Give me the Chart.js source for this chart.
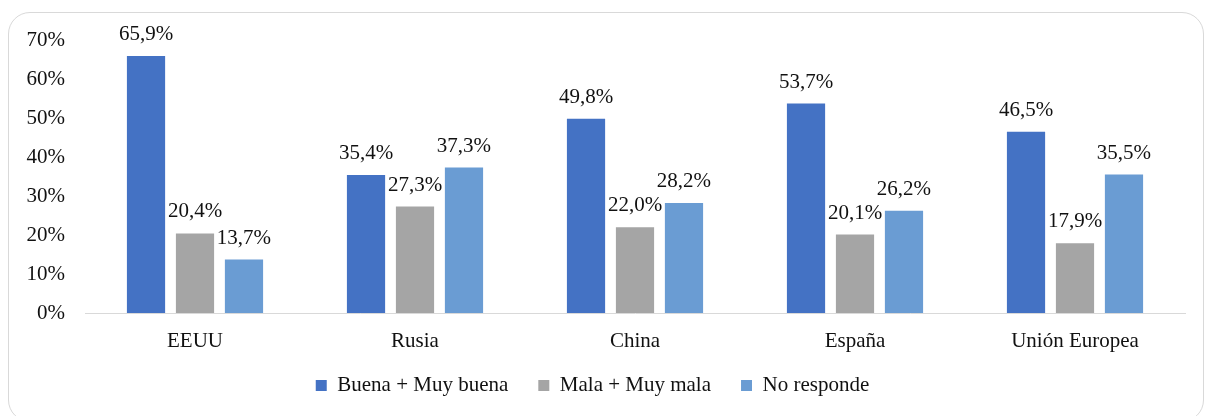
<!DOCTYPE html>
<html>
<head>
<meta charset="utf-8">
<script src="https://cdn.jsdelivr.net/npm/chart.js@4"></script>
<style>
  html, body { margin: 0; padding: 0; background: #fff; }
  #frame {
    position: absolute; left: 8px; top: 12px; width: 1196px; height: 410px;
    border: 1px solid #d9d9d9; border-radius: 22px; box-sizing: border-box;
  }
  #wrap { position: absolute; left: 0; top: 0; width: 1210px; height: 416px; }
</style>
</head>
<body>
<div id="frame"></div>
<div id="wrap"><canvas id="chart"></canvas></div>
<script>
const categories = ["EEUU", "Rusia", "China", "España", "Unión Europea"];
const buena = [65.9, 35.4, 49.8, 53.7, 46.5];
const mala = [20.4, 27.3, 22.0, 20.1, 17.9];
const noResponde = [13.7, 37.3, 28.2, 26.2, 35.5];
const yTicks = [0, 10, 20, 30, 40, 50, 60, 70];

const serif = "'Liberation Serif', 'Times New Roman', serif";

// labels above each bar, comma decimal
const barLabels = {
  id: "barLabels",
  afterDatasetsDraw(chart) {
    const ctx = chart.ctx;
    ctx.save();
    ctx.font = "21px " + serif;
    ctx.fillStyle = "#111";
    ctx.textAlign = "center";
    ctx.textBaseline = "bottom";
    chart.data.datasets.forEach((ds, i) => {
      chart.getDatasetMeta(i).data.forEach((bar, j) => {
        const txt = ds.data[j].toFixed(1).replace(".", ",") + "%";
        ctx.fillText(txt, bar.x, bar.y - 11);
      });
    });
    ctx.restore();
  }
};

new Chart(document.getElementById("chart"), {
  type: "bar",
  data: {
    labels: categories,
    datasets: [
      { label: "Buena + Muy buena", data: buena, backgroundColor: "#4472C4" },
      { label: "Mala + Muy mala", data: mala, backgroundColor: "#A5A5A5" },
      { label: "No responde", data: noResponde, backgroundColor: "#6A9CD3" }
    ]
  },
  options: {
    responsive: true,
    maintainAspectRatio: false,
    animation: false,
    datasets: { bar: { categoryPercentage: 0.668, barPercentage: 0.78 } },
    layout: { padding: { top: 40, right: 25, left: 0, bottom: 10 } },
    scales: {
      x: {
        afterFit(scale) {
          scale.height = 32;
          // let the category labels spill into the legend's top padding
          scale._computeLabelArea = () => undefined;
        },
        grid: { display: false, drawTicks: false },
        border: { display: true, color: "#d9d9d9", width: 1 },
        ticks: { color: "#111", font: { family: serif, size: 21 }, padding: 16 }
      },
      y: {
        min: 0,
        max: 70,
        afterFit(scale) { scale.width = 85; },
        afterBuildTicks(scale) { scale.ticks = yTicks.map(v => ({ value: v })); },
        grid: { display: false, drawTicks: false },
        border: { display: false },
        ticks: {
          color: "#111",
          font: { family: serif, size: 21 },
          padding: 20,
          callback: v => v + "%"
        }
      }
    },
    plugins: {
      legend: {
        position: "bottom",
        labels: {
          color: "#111",
          font: { family: serif, size: 21 },
          boxWidth: 11,
          boxHeight: 11,
          padding: 30
        }
      },
      tooltip: { enabled: false }
    }
  },
  plugins: [barLabels]
});
</script>
</body>
</html>
